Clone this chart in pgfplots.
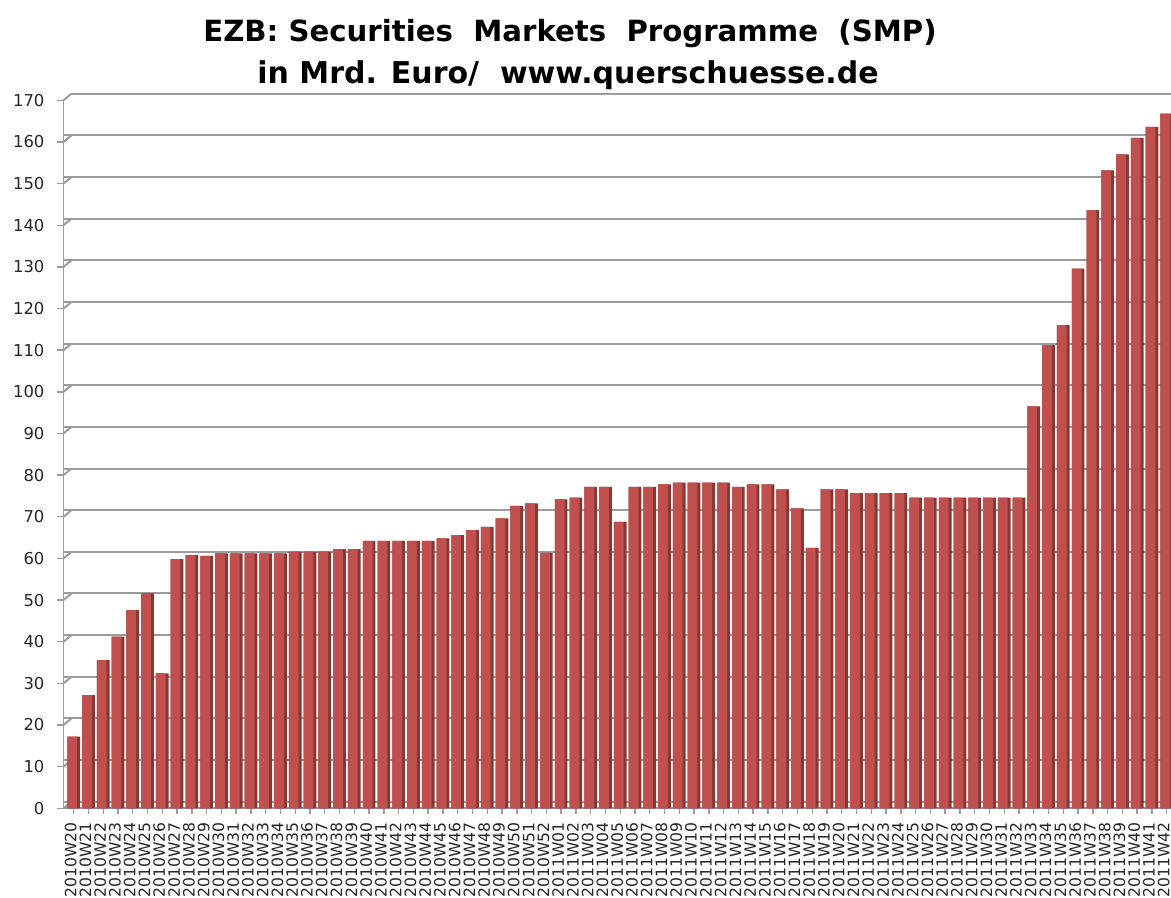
\documentclass[border=0pt]{standalone}
\usepackage{pgfplots}
\pgfplotsset{compat=1.18}
\usepackage{pgfplotstable}
\usepackage{fontspec}
\setmainfont{DejaVu Sans}
\definecolor{barred}{HTML}{C0504D}
\definecolor{bardark}{HTML}{8A3634}
\definecolor{gridgray}{HTML}{9C9C9C}
\pgfplotstableread{
x y
0 17.2
1 27.2
2 35.6
3 41.2
4 47.6
5 51.6
6 32.4
7 59.8
8 60.8
9 60.6
10 61.2
11 61.2
12 61.2
13 61.2
14 61.2
15 61.6
16 61.6
17 61.6
18 62.2
19 62.2
20 64.2
21 64.2
22 64.2
23 64.2
24 64.2
25 64.8
26 65.6
27 66.8
28 67.6
29 69.6
30 72.6
31 73.2
32 61.3
33 74.2
34 74.6
35 77.2
36 77.2
37 68.8
38 77.2
39 77.2
40 77.8
41 78.2
42 78.2
43 78.2
44 78.2
45 77.2
46 77.8
47 77.8
48 76.6
49 72.0
50 62.5
51 76.6
52 76.6
53 75.7
54 75.7
55 75.7
56 75.7
57 74.6
58 74.6
59 74.6
60 74.6
61 74.6
62 74.6
63 74.6
64 74.6
65 96.5
66 111.2
67 116.0
68 129.6
69 143.6
70 153.2
71 157.0
72 161.0
73 163.6
74 166.8
}\smp
\begin{document}
\begin{tikzpicture}
\useasboundingbox (-31.75pt,-44.85pt) rectangle (553.75pt,404.15pt);
\begin{axis}[
  scale only axis,
  width=553.75pt, height=354pt,
  xmin=-0.69, xmax=74.29,
  ymin=0, ymax=170,
  ytick={0,10,...,170},
  xtick={0,...,74},
  xticklabels={2010W20,2010W21,2010W22,2010W23,2010W24,2010W25,2010W26,2010W27,2010W28,2010W29,2010W30,2010W31,2010W32,2010W33,2010W34,2010W35,2010W36,2010W37,2010W38,2010W39,2010W40,2010W41,2010W42,2010W43,2010W44,2010W45,2010W46,2010W47,2010W48,2010W49,2010W50,2010W51,2010W52,2011W01,2011W02,2011W03,2011W04,2011W05,2011W06,2011W07,2011W08,2011W09,2011W10,2011W11,2011W12,2011W13,2011W14,2011W15,2011W16,2011W17,2011W18,2011W19,2011W20,2011W21,2011W22,2011W23,2011W24,2011W25,2011W26,2011W27,2011W28,2011W29,2011W30,2011W31,2011W32,2011W33,2011W34,2011W35,2011W36,2011W37,2011W38,2011W39,2011W40,2011W41,2011W42},
  axis x line*=bottom,
  axis y line*=left,
  axis line style={gridgray, line width=0.9pt},
  tick align=outside,
  major tick length=3pt,
  tick style={gridgray, line width=0.7pt},
  ymajorgrids,
  major grid style={gridgray, line width=1pt, yshift=3.3pt, shorten <=4pt},
  /pgf/number format/assume math mode=true,
  yticklabel style={font=\fontsize{8.2}{9}\selectfont, text=black!85, xshift=-3pt},
  xticklabel style={font=\fontsize{7.8}{9}\selectfont, text=black!85, xshift=-1.5pt, yshift=-3pt, rotate=90, anchor=east, inner sep=1pt},
  clip=false,
]
\pgfplotsinvokeforeach{0,10,...,170}{
  \draw[gridgray, line width=1pt] (axis cs:-0.69,#1) -- ([xshift=4pt,yshift=3.3pt]axis cs:-0.69,#1);
}
\addplot[ybar, bar width=0.86, bar shift=0, fill=bardark, draw=none] table[x=x,y=y]{\smp};
\addplot[ybar, bar width=0.66, bar shift=-0.1, fill=barred, draw=none] table[x=x,y=y]{\smp};
\end{axis}
\node[anchor=base, font=\fontsize{14.6}{18}\selectfont\bfseries] at (253.25pt,383.15pt) {EZB: Securities\ \ Markets\ \ Programme\ \ (SMP)};
\node[anchor=base, font=\fontsize{15}{18}\selectfont\bfseries] at (252.25pt,362.15pt) {in Mrd. Euro/\ \ www.querschuesse.de};
\end{tikzpicture}
\end{document}
